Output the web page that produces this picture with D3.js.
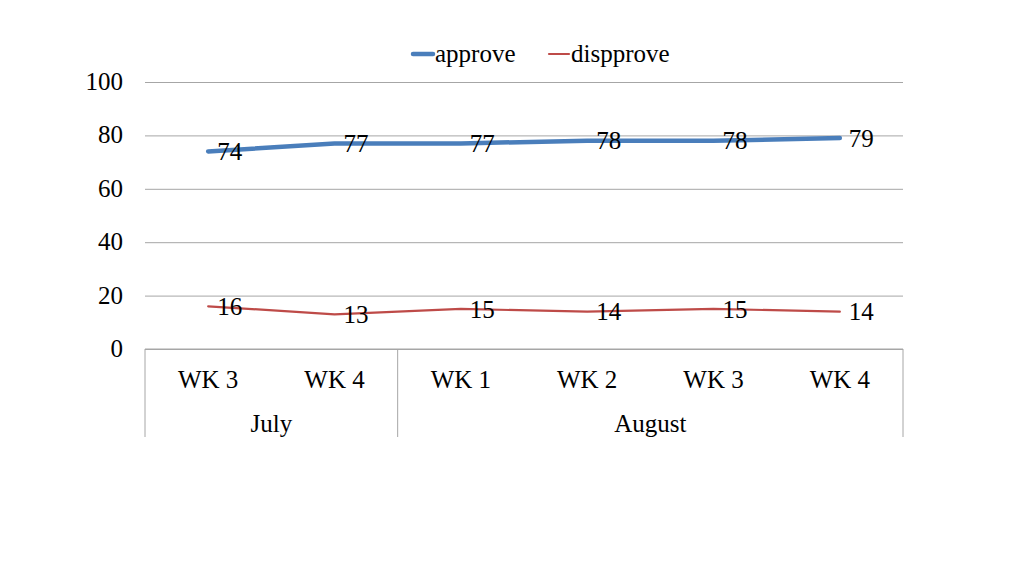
<!DOCTYPE html>
<html lang="en">
<head>
<meta charset="utf-8">
<title>approve / disapprove</title>
<script src="https://d3js.org/d3.v7.min.js"></script>
<style>
  body { margin: 0; background: #fff; }
  svg text { font-family: 'Liberation Serif', 'Times New Roman', serif; fill: #000; font-size: 25px; }
</style>
</head>
<body>
<div id="chart"></div>
<script>
// data
var weeks = ["WK 3", "WK 4", "WK 1", "WK 2", "WK 3", "WK 4"];
var months = [ {name: "July", span: 2}, {name: "August", span: 4} ];
var approve = [74, 77, 77, 78, 78, 79];
var disapprove = [16, 13, 15, 14, 15, 14];
var yTicks = [0, 20, 40, 60, 80, 100];

var colours = { approve: "#4a7ebb", disapprove: "#be4b48", grid: "#a6a6a6" };

var W = 1024, H = 576;
var margin = {top: 82, right: 121, bottom: 227, left: 145},
    width = W - margin.left - margin.right,
    height = H - margin.top - margin.bottom;

var svg = d3.select("#chart").append("svg")
    .attr("width", W).attr("height", H);
var g = svg.append("g")
    .attr("transform", "translate(" + margin.left + "," + margin.top + ")");

// band for each week so the two month groups can share it
var x = d3.scaleBand().domain(d3.range(weeks.length)).range([0, width]);
var y = d3.scaleLinear().domain([0, 100]).range([height, 0]);

// gridlines + y labels
var yAxis = g.append("g")
  .call(d3.axisLeft(y).tickValues(yTicks).tickSize(-width).tickPadding(22));
yAxis.select(".domain").remove();
yAxis.selectAll(".tick line").attr("stroke", colours.grid).attr("stroke-width", 1);
yAxis.selectAll(".tick text").style("font-size", "25px").attr("dy", "0.3em")
  .style("font-family", "'Liberation Serif', serif");

// category axis: bottom line and group separators
var axisDepth = 88;
g.append("line")
  .attr("x1", 0).attr("x2", width).attr("y1", height).attr("y2", height)
  .attr("stroke", colours.grid);

var cum = 0;
var edges = [0];
months.forEach(function(m) { cum += m.span; edges.push(cum); });
g.selectAll("line.sep").data(edges).enter().append("line")
  .attr("class", "sep")
  .attr("x1", function(d) { return d < weeks.length ? x(d) : width; })
  .attr("x2", function(d) { return d < weeks.length ? x(d) : width; })
  .attr("y1", height).attr("y2", height + axisDepth)
  .attr("stroke", colours.grid);

g.selectAll("text.week").data(weeks).enter().append("text")
  .attr("class", "week")
  .attr("x", function(d, i) { return x(i) + x.bandwidth() / 2; })
  .attr("y", height + 39)
  .attr("text-anchor", "middle")
  .text(function(d) { return d; });

g.selectAll("text.month").data(months).enter().append("text")
  .attr("class", "month")
  .attr("x", function(d, i) {
    var a = edges[i], b = edges[i + 1];
    var xa = x(a), xb = b < weeks.length ? x(b) : width;
    return (xa + xb) / 2;
  })
  .attr("y", height + 83)
  .attr("text-anchor", "middle")
  .text(function(d) { return d.name; });

// lines
var cx = function(d, i) { return x(i) + x.bandwidth() / 2; };
var line = d3.line().x(cx).y(function(d) { return y(d); });

g.append("path").datum(disapprove)
  .attr("d", line).attr("fill", "none")
  .attr("stroke", colours.disapprove).attr("stroke-width", 2.2)
  .attr("stroke-linejoin", "round").attr("stroke-linecap", "round");

g.append("path").datum(approve)
  .attr("d", line).attr("fill", "none")
  .attr("stroke", colours.approve).attr("stroke-width", 4.5)
  .attr("stroke-linejoin", "round").attr("stroke-linecap", "round");

// data labels to the right of each point
function labels(data, cls) {
  g.selectAll("text." + cls).data(data).enter().append("text")
    .attr("class", cls)
    .attr("x", function(d, i) { return cx(d, i) + 9; })
    .attr("y", function(d) { return y(d); })
    .attr("dy", "0.35em")
    .text(function(d) { return d; });
}
labels(approve, "lab-approve");
labels(disapprove, "lab-disapprove");

// legend
var legend = svg.append("g").attr("transform", "translate(0,54)");
var items = [
  {name: "approve", colour: colours.approve, w: 4.5, x: 413},
  {name: "dispprove", colour: colours.disapprove, w: 2.2, x: 549}
];
items.forEach(function(it) {
  legend.append("line")
    .attr("x1", it.x).attr("x2", it.x + 20).attr("y1", 0).attr("y2", 0)
    .attr("stroke", it.colour).attr("stroke-width", it.w)
    .attr("stroke-linecap", "round");
  legend.append("text")
    .attr("x", it.x + 22).attr("y", 0).attr("dy", "0.32em")
    .text(it.name);
});
</script>
</body>
</html>
